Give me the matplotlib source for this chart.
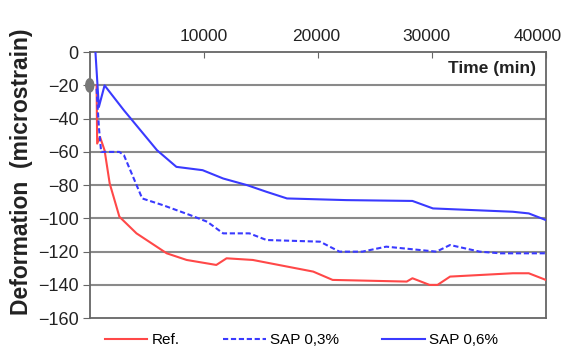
import matplotlib
matplotlib.use("Agg")
import matplotlib.pyplot as plt
import matplotlib.transforms as mtransforms
from matplotlib.patches import Ellipse

plt.rcParams['font.family'] = ['Liberation Sans', 'DejaVu Sans']

# Ref.
ref_t = [600, 650, 900, 1300, 1750, 2600, 4100, 6750, 8500, 11100, 12000, 14300,
         19600, 21300, 27800, 28300, 29800, 30500, 31600, 37100, 38500, 40000]
ref_d = [-20, -55, -51, -59, -79, -99, -109, -121, -125, -128, -124, -125,
         -132, -137, -138, -136, -140, -140, -135, -133, -133, -137]

# SAP 0,3%
sap3_t = [600, 800, 1000, 2600, 3000, 3800, 4600, 6400, 8800, 10300, 11700, 14000,
          15500, 20200, 21900, 23900, 26000, 30400, 31600, 34200, 36000, 40000]
sap3_d = [-22, -45, -60, -60, -62, -75, -88, -92, -98, -102, -109, -109,
          -113, -114, -120, -120, -117, -120, -116, -120, -121, -121]

# SAP 0,6%
sap6_t = [500, 800, 1300, 3000, 5900, 7600, 9900, 11700, 13800, 15500, 17300,
          22500, 28300, 30100, 37100, 38500, 40000]
sap6_d = [0, -33, -20, -35, -59, -69, -71, -76, -80, -84, -88,
          -89, -89.5, -94, -96, -97, -101]

y_ticks = [0, -20, -40, -60, -80, -100, -120, -140, -160]
x_ticks = [10000, 20000, 30000, 40000]

fig = plt.figure(figsize=(5.68, 3.5), dpi=100)
ax = fig.add_axes([0.158, 0.091, 0.803, 0.760])

for y in y_ticks[1:-1]:
    ax.axhline(y, color='#8a8a8a', lw=1.5, zorder=1)

ax.plot(ref_t, ref_d, color='#ff4848', lw=1.5, label='Ref.', zorder=3)
ax.plot(sap3_t, sap3_d, color='#3a3aff', lw=1.5, ls=(0, (2.5, 1.3)), label='SAP 0,3%', zorder=3)
ax.plot(sap6_t, sap6_d, color='#3a3aff', lw=1.5, label='SAP 0,6%', zorder=3)

ax.add_patch(Ellipse((0, -20), 700, 8, color='#777777', clip_on=False, zorder=4))

ax.set_xlim(0, 40000)
ax.set_ylim(-160, 0)
ax.set_yticks(y_ticks)
ax.set_xticks(x_ticks)
ax.xaxis.tick_top()
ax.tick_params(axis='x', direction='in', length=4, labelsize=12.5, labelcolor='#222222',
               color='#666666', pad=6)
ax.tick_params(axis='y', direction='out', length=5, labelsize=13, labelcolor='#222222',
               color='#666666', pad=3)
for s in ax.spines.values():
    s.set_color('#666666')
    s.set_linewidth(1.3)

# the outer labels sit a bit to the left of their ticks in the original
shifts = [0, -2, -5, -8]
for lab, dx in zip(ax.get_xticklabels(), shifts):
    lab.set_transform(lab.get_transform() + mtransforms.ScaledTranslation(dx / 100, 0, fig.dpi_scale_trans))

ax.set_ylabel('Deformation  (microstrain)', fontsize=16.5, fontweight='bold', color='#222222')
ax.yaxis.set_label_coords(-0.125, 0.549)
ax.text(0.978, 0.94, 'Time (min)', transform=ax.transAxes, ha='right', va='center',
        fontsize=12.5, fontweight='bold', color='#222222')

fig.legend(loc='center left', bbox_to_anchor=(0.160, 0.029), ncol=3, frameon=False,
           fontsize=11, handlelength=2.8, columnspacing=2.8, handletextpad=0.3)

fig.savefig('out.png', dpi=100)
